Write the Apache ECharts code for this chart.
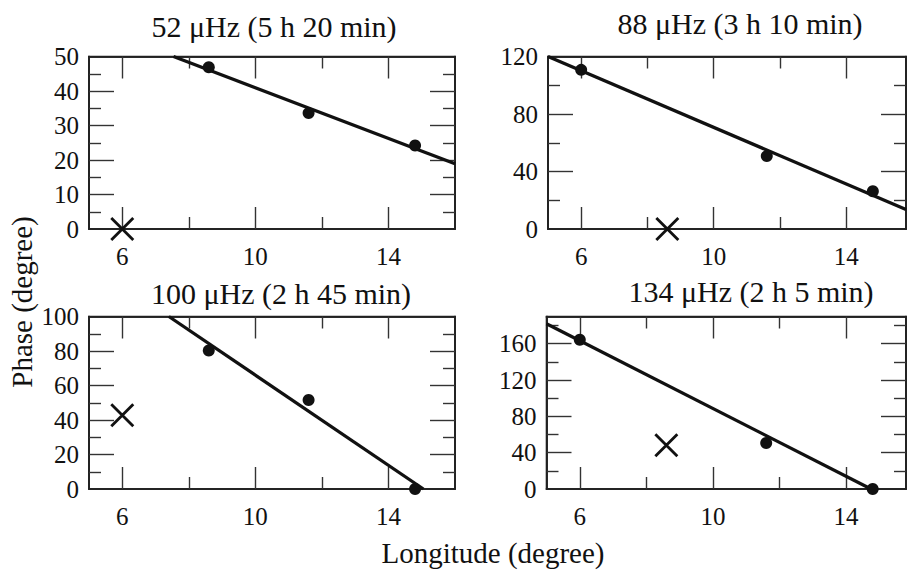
<!DOCTYPE html>
<html><head><meta charset="utf-8">
<script src="https://cdn.jsdelivr.net/npm/echarts@6/dist/echarts.min.js"></script>
<style>html,body{margin:0;padding:0;background:#fff;}#c{width:907px;height:573px;}</style>
</head><body><div id="c"></div>
<script>
// ---- data ----
const lon = [6.0, 8.6, 11.6, 14.8];
const panelTitles = ['52 μHz (5 h 20 min)', '88 μHz (3 h 10 min)', '100 μHz (2 h 45 min)', '134 μHz (2 h 5 min)'];
const phase52 = [0, 46.9, 33.6, 24.2];
const phase88 = [110.7, 0, 50.7, 26.3];
const phase100 = [42.8, 80.3, 51.6, 0];
const phase134 = [164.4, 48.1, 50.6, 0];
const rejectedIndex = [0, 1, 0, 1];
const fitLon52 = [7.54, 16], fitPhase52 = [50, 18.9];
const fitLon88 = [5, 15.8], fitPhase88 = [120, 13.5];
const fitLon100 = [7.4, 15.05], fitPhase100 = [100, 0];
const fitLon134 = [5, 14.75], fitPhase134 = [182, 0];
const xMajorTicks = [6, 10, 14];
const xMinorTicks = [8, 12];
const xMin = 5;
const xMaxes = [16, 15.8, 16, 15.8];
const yMajor52 = [0, 10, 20, 30, 40, 50], yMinor52 = [5, 15, 25, 35, 45];
const yMajor88 = [0, 40, 80, 120], yMinor88 = [20, 60, 100];
const yMajor100 = [0, 20, 40, 60, 80, 100], yMinor100 = [10, 30, 50, 70, 90];
const yMajor134 = [0, 40, 80, 120, 160], yMinor134 = [20, 60, 100, 140, 180];
const yMaxes = [50, 120, 100, 190];
const yLabel = 'Phase (degree)';
const xLabel = 'Longitude (degree)';

// ---- layout / styles ----
const FONT = '"Liberation Serif", "Times New Roman", serif';
const INK = '#111';
const TICK = '#333';
const panels = [
  {left: 89, top: 56.5, width: 366, height: 172.5},
  {left: 548, top: 56.5, width: 358, height: 172.5},
  {left: 89, top: 316.5, width: 366, height: 172.5},
  {left: 546.5, top: 316.5, width: 359.5, height: 172.5}
];
const titlePos = [[274, 26], [740, 23], [281, 293], [751, 291]];
const phases = [phase52, phase88, phase100, phase134];
const fits = [[fitLon52, fitPhase52], [fitLon88, fitPhase88], [fitLon100, fitPhase100], [fitLon134, fitPhase134]];
const yMajors = [yMajor52, yMajor88, yMajor100, yMajor134];
const yMinors = [yMinor52, yMinor88, yMinor100, yMinor134];
const innerOnly = (vals, lo, hi) => vals.filter(v => v > lo && v < hi);

const gridOpts = [], xAxes = [], yAxes = [], series = [], graphics = [];
panels.forEach((g, i) => {
  const layers = [
    {xPos: 'bottom', yPos: 'left', xVals: xMajorTicks, yVals: yMajors[i], xLen: 22, yLen: 25, labels: true},
    {xPos: 'top', yPos: 'right', xVals: xMajorTicks, yVals: yMajors[i], xLen: 22, yLen: 25, labels: false},
    {xPos: 'bottom', yPos: 'left', xVals: xMinorTicks, yVals: yMinors[i], xLen: 12, yLen: 12, labels: false},
    {xPos: 'top', yPos: 'right', xVals: xMinorTicks, yVals: yMinors[i], xLen: 12, yLen: 12, labels: false}
  ];
  let mainIdx = 0;
  layers.forEach((L, li) => {
    const gi = gridOpts.length;
    if (li === 0) mainIdx = gi;
    gridOpts.push(Object.assign({show: li === 0, borderColor: '#222', borderWidth: 1.6}, g));
    const xAxisOpt = {
      type: 'value', gridIndex: gi, position: L.xPos, min: xMin, max: xMaxes[i],
      splitLine: {show: false},
      axisLine: {show: true, onZero: false, lineStyle: {color: '#222', width: 1.6}},
      axisTick: {show: true, inside: true, length: L.xLen, customValues: innerOnly(L.xVals, xMin, xMaxes[i]), lineStyle: {color: TICK, width: 1.4}}
    };
    const yAxisOpt = {
      type: 'value', gridIndex: gi, position: L.yPos, min: 0, max: yMaxes[i],
      splitLine: {show: false},
      axisLine: {show: true, onZero: false, lineStyle: {color: '#222', width: 1.6}},
      axisTick: {show: true, inside: true, length: L.yLen, customValues: innerOnly(L.yVals, 0, yMaxes[i]), lineStyle: {color: TICK, width: 1.4}}
    };
    if (L.labels) {
      xAxisOpt.axisLabel = {show: true, customValues: L.xVals, margin: 15, fontFamily: FONT, fontSize: 25, color: INK};
      yAxisOpt.axisLabel = {show: true, customValues: L.yVals, margin: 10, fontFamily: FONT, fontSize: 25, color: INK};
    } else {
      xAxisOpt.axisLabel = {show: false};
      yAxisOpt.axisLabel = {show: false};
    }
    xAxes.push(xAxisOpt);
    yAxes.push(yAxisOpt);
  });
  const p = phases[i];
  const dots = [], crosses = [];
  lon.forEach((x, k) => { (k === rejectedIndex[i] ? crosses : dots).push([x, p[k]]); });
  const [fl, fp] = fits[i];
  series.push({
    type: 'line', xAxisIndex: mainIdx, yAxisIndex: mainIdx, data: fl.map((x, k) => [x, fp[k]]),
    symbol: 'none', lineStyle: {color: INK, width: 3.3}, silent: true, z: 3
  });
  series.push({
    type: 'scatter', xAxisIndex: mainIdx, yAxisIndex: mainIdx, data: dots,
    symbol: 'circle', symbolSize: 12, itemStyle: {color: INK, opacity: 1}, z: 4
  });
  series.push({
    type: 'scatter', xAxisIndex: mainIdx, yAxisIndex: mainIdx, data: crosses,
    symbol: 'path://M0,0L20,20M20,0L0,20', symbolSize: 22,
    itemStyle: {color: 'none', borderColor: INK, borderWidth: 2.8, opacity: 1}, z: 4
  });
  graphics.push({
    type: 'text', x: titlePos[i][0], y: titlePos[i][1],
    style: {text: panelTitles[i], fontFamily: FONT, fontSize: 30, fill: INK, align: 'center', verticalAlign: 'middle'}
  });
});
graphics.push({
  type: 'text', x: 22, y: 302, rotation: Math.PI / 2,
  style: {text: yLabel, fontFamily: FONT, fontSize: 29, fill: INK, align: 'center', verticalAlign: 'middle'}
});
graphics.push({
  type: 'text', x: 493, y: 553,
  style: {text: xLabel, fontFamily: FONT, fontSize: 29, fill: INK, align: 'center', verticalAlign: 'middle'}
});

const chart = echarts.init(document.getElementById('c'), null, {renderer: 'svg'});
chart.setOption({
  animation: false,
  grid: gridOpts,
  xAxis: xAxes,
  yAxis: yAxes,
  series: series,
  graphic: graphics
});
</script></body></html>
